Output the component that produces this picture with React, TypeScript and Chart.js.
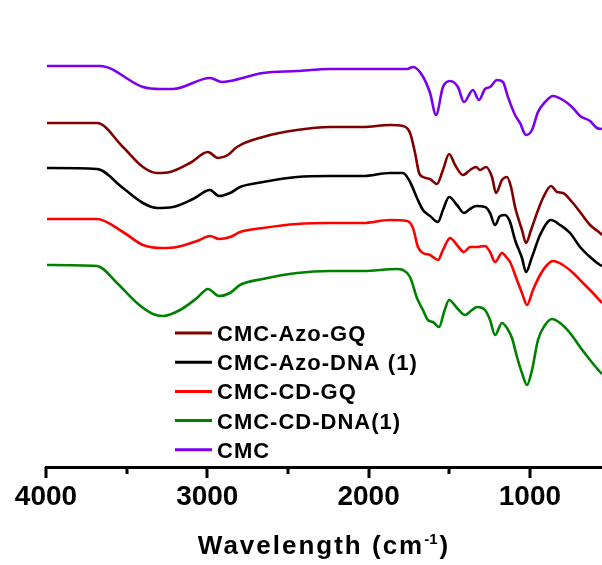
import React, { useEffect, useRef } from "react";
import { Chart, registerables } from "chart.js";

Chart.register(...registerables);

// Wavenumber (cm^-1) ticks
const majorTicks = [4000, 3000, 2000, 1000];
const minorTicks = [3500, 2500, 1500];
const allTicks = [4000, 3500, 3000, 2500, 2000, 1500, 1000];

// Series (transmittance, arbitrary offset units)
const azoGqWn = [3994, 3684, 3523, 3399, 3312, 3231, 3107, 2996, 2934, 2872, 2816, 2655, 2444, 2239, 2035, 1867, 1787, 1743, 1712, 1687, 1663, 1619, 1576, 1539, 1501, 1464, 1415, 1371, 1334, 1309, 1272, 1235, 1210, 1173, 1142, 1117, 1092, 1049, 1024, 993, 956, 919, 869, 832, 795, 739, 689, 627, 565, 553];
const azoGqT = [344, 344, 320, 300, 294, 295, 304, 315, 309, 312, 320, 330, 337, 340, 340, 342, 341, 334, 314, 294, 290, 288, 283, 297, 313, 302, 292, 297, 300, 297, 300, 290, 274, 287, 290, 280, 260, 237, 224, 237, 254, 269, 281, 275, 274, 265, 255, 242, 234, 232];

const azoDnaWn = [3994, 3684, 3523, 3399, 3312, 3213, 3089, 2983, 2927, 2859, 2797, 2655, 2444, 2239, 2035, 1867, 1787, 1743, 1700, 1663, 1619, 1570, 1539, 1501, 1452, 1409, 1371, 1334, 1278, 1247, 1216, 1185, 1154, 1123, 1092, 1049, 1024, 987, 937, 869, 813, 751, 689, 627, 565, 553];
const azoDnaT = [299, 298, 279, 264, 259, 260, 268, 277, 271, 274, 280, 285, 290, 291, 291, 294, 294, 285, 269, 257, 251, 245, 257, 270, 262, 254, 258, 261, 260, 254, 242, 251, 252, 245, 227, 209, 195, 210, 232, 247, 242, 234, 220, 210, 202, 201];

const cdGqWn = [3994, 3684, 3523, 3399, 3281, 3188, 3064, 2983, 2927, 2859, 2797, 2655, 2444, 2239, 2035, 1867, 1762, 1725, 1694, 1663, 1619, 1570, 1539, 1495, 1452, 1409, 1371, 1328, 1278, 1247, 1216, 1173, 1142, 1123, 1080, 1049, 1018, 981, 937, 894, 857, 795, 732, 671, 609, 553];
const cdGqT = [248, 248, 235, 222, 219, 220, 226, 231, 228, 230, 235, 239, 243, 244, 244, 247, 246, 239, 220, 214, 212, 207, 217, 229, 222, 215, 220, 220, 221, 215, 205, 214, 209, 205, 187, 174, 162, 177, 192, 202, 206, 202, 194, 184, 174, 164];

const cdDnaWn = [3994, 3684, 3560, 3436, 3337, 3275, 3169, 3064, 2996, 2927, 2859, 2797, 2655, 2444, 2239, 2035, 1824, 1787, 1743, 1700, 1663, 1632, 1601, 1563, 1532, 1501, 1452, 1402, 1359, 1328, 1278, 1247, 1216, 1173, 1142, 1111, 1080, 1049, 1018, 987, 950, 906, 863, 813, 751, 689, 627, 565, 553];
const cdDnaT = [202, 201, 184, 164, 153, 151, 157, 169, 178, 171, 174, 182, 188, 194, 196, 196, 198, 197, 190, 169, 157, 147, 145, 140, 155, 167, 159, 152, 157, 160, 157, 147, 132, 144, 139, 129, 110, 94, 82, 97, 127, 142, 148, 144, 134, 120, 107, 95, 93];

const cmcWn = [3994, 3665, 3399, 3293, 3213, 2983, 2909, 2859, 2655, 2444, 2239, 2035, 1762, 1725, 1669, 1619, 1582, 1539, 1495, 1446, 1409, 1353, 1316, 1278, 1247, 1204, 1167, 1136, 1092, 1061, 1024, 987, 950, 906, 857, 795, 739, 689, 627, 584, 553];
const cmcT = [401, 401, 380, 378, 378, 389, 385, 386, 394, 396, 398, 398, 398, 400, 392, 374, 352, 380, 386, 380, 365, 377, 367, 378, 380, 387, 385, 370, 352, 344, 332, 337, 355, 365, 371, 367, 360, 351, 346, 339, 338];

const seriesNames = ["CMC-Azo-GQ", "CMC-Azo-DNA (1)", "CMC-CD-GQ", "CMC-CD-DNA(1)", "CMC"];
const seriesColors = ["#800000", "#000000", "#FF0000", "#008000", "#7A00F0"];
const seriesWn = [azoGqWn, azoDnaWn, cdGqWn, cdDnaWn, cmcWn];
const seriesT = [azoGqT, azoDnaT, cdGqT, cdDnaT, cmcT];

const xTitle = "Wavelength (cm";
const xTitleSup = "-1";
const FONT = '"Liberation Sans", Arial, sans-serif';

const decorPlugin = {
  id: "decor",
  afterDraw(chart: any) {
    const ctx = chart.ctx as CanvasRenderingContext2D;
    const xs = chart.scales.x;
    const y0 = xs.top;
    ctx.save();
    // tick marks
    ctx.strokeStyle = "#000";
    ctx.lineWidth = 3;
    ctx.lineCap = "butt";
    for (const v of allTicks) {
      const px = Math.round(xs.getPixelForValue(v));
      const len = majorTicks.includes(v) ? 11 : 7;
      ctx.beginPath();
      ctx.moveTo(px, y0);
      ctx.lineTo(px, y0 + len);
      ctx.stroke();
    }
    // legend
    const lx = 175;
    const ly = 333;
    const gap = 29.2;
    ctx.font = `bold 22px ${FONT}`;
    (ctx as any).letterSpacing = "1px";
    ctx.textBaseline = "alphabetic";
    ctx.textAlign = "left";
    seriesNames.forEach((name, i) => {
      const y = ly + i * gap;
      ctx.strokeStyle = seriesColors[i];
      ctx.lineWidth = 3;
      ctx.beginPath();
      ctx.moveTo(lx, y);
      ctx.lineTo(lx + 37, y);
      ctx.stroke();
      ctx.fillStyle = "#000";
      ctx.fillText(name, lx + 42, y + 8);
    });
    // axis title
    ctx.font = `bold 26px ${FONT}`;
    (ctx as any).letterSpacing = "2px";
    const w1 = ctx.measureText(xTitle).width;
    ctx.font = `bold 15px ${FONT}`;
    (ctx as any).letterSpacing = "0px";
    const w2 = ctx.measureText(xTitleSup).width;
    ctx.font = `bold 26px ${FONT}`;
    const w3 = ctx.measureText(")").width;
    const total = w1 + w2 + 2 + w3;
    const cx = (xs.left + xs.right) / 2 + 0;
    let tx = 323 - total / 2;
    const by = 554;
    ctx.fillStyle = "#000";
    ctx.font = `bold 26px ${FONT}`;
    (ctx as any).letterSpacing = "2px";
    ctx.fillText(xTitle, tx, by);
    tx += w1;
    ctx.font = `bold 15px ${FONT}`;
    (ctx as any).letterSpacing = "0px";
    ctx.fillText(xTitleSup, tx, by - 10);
    tx += w2 + 2;
    ctx.font = `bold 26px ${FONT}`;
    ctx.fillText(")", tx, by);
    void cx;
    ctx.restore();
  },
};

export default function App() {
  const ref = useRef<HTMLCanvasElement | null>(null);
  useEffect(() => {
    if (!ref.current) return;
    const datasets = seriesNames.map((name, i) => ({
      label: name,
      data: seriesWn[i].map((w, k) => ({ x: w, y: seriesT[i][k] })),
      borderColor: seriesColors[i],
      backgroundColor: seriesColors[i],
      borderWidth: 2.6,
      pointRadius: 0,
      tension: 0.35,
      cubicInterpolationMode: "monotone" as const,
      fill: false,
    }));
    const chart = new Chart(ref.current, {
      type: "line",
      data: { datasets },
      plugins: [decorPlugin],
      options: {
        animation: false,
        responsive: false,
        maintainAspectRatio: false,
        layout: { padding: { left: 46, right: 0, top: 40, bottom: 0 } },
        plugins: { legend: { display: false }, tooltip: { enabled: false }, title: { display: false } },
        scales: {
          x: {
            type: "linear",
            reverse: true,
            min: 553,
            max: 4000,
            afterBuildTicks: (s: any) => {
              s.ticks = allTicks.map((v) => ({ value: v }));
            },
            afterFit: (s: any) => {
              s.height = 98;
            },
            grid: { display: false, drawTicks: false },
            border: { display: true, color: "#000", width: 3 },
            ticks: {
              autoSkip: false,
              maxRotation: 0,
              minRotation: 0,
              padding: 13,
              color: "#000",
              font: { family: FONT, size: 28, weight: "bold" },
              callback: (v: any) => (majorTicks.includes(Number(v)) ? String(v) : ""),
            },
          },
          y: { display: false, min: 0, max: 427 },
        },
      },
    });
    return () => chart.destroy();
  }, []);
  return (
    <div style={{ position: "fixed", left: 0, top: 0, width: 602, height: 565, background: "#fff" }}>
      <canvas ref={ref} width={602} height={565} style={{ width: 602, height: 565, display: "block" }} />
    </div>
  );
}
